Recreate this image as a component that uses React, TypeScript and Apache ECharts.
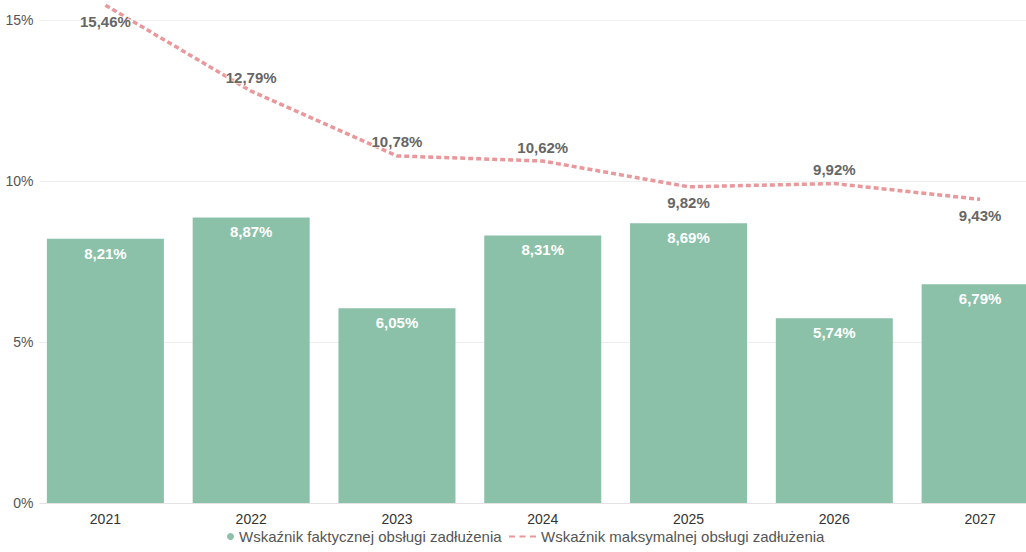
import React, { useEffect, useRef } from "react";
import * as echarts from "echarts";

const years = ["2021", "2022", "2023", "2024", "2025", "2026", "2027"];
const actual = [8.21, 8.87, 6.05, 8.31, 8.69, 5.74, 6.79];
const maxRatio = [15.46, 12.79, 10.78, 10.62, 9.82, 9.92, 9.43];
const maxLabelPos = ["bottom", "top", "top", "top", "bottom", "top", "bottom"];
const yTicks = [0, 5, 10, 15];

const fmt = (v: number) => v.toFixed(2).replace(".", ",") + "%";

const ACTUAL = "Wskaźnik faktycznej obsługi zadłużenia";
const MAX = "Wskaźnik maksymalnej obsługi zadłużenia";

export default function App() {
  const ref = useRef<HTMLDivElement>(null);
  useEffect(() => {
    if (!ref.current) return;
    const chart = echarts.init(ref.current, null, { renderer: "svg" });
    chart.setOption({
      animation: false,
      textStyle: { fontFamily: "Liberation Sans, Arial, sans-serif" },
      grid: { left: 32.5, right: 0, top: 20, bottom: 49 },
      legend: [
        {
          bottom: 3,
          left: 222,
          itemWidth: 7,
          itemHeight: 7,
          textStyle: { fontSize: 15, color: "#555" },
          data: [{ name: ACTUAL, icon: "circle", itemStyle: { color: "#8BC1A9" } }],
        },
        {
          bottom: 3,
          left: 504,
          itemWidth: 27,
          itemHeight: 2.5,
          textStyle: { fontSize: 15, color: "#555" },
          data: [
            {
              name: MAX,
              icon: "path://M0,0h6v2h-6zM10.5,0h6v2h-6zM21,0h6v2h-6z",
              itemStyle: { color: "#E9989B" },
            },
          ],
        },
      ],
      xAxis: {
        type: "category",
        data: years,
        axisTick: { show: false },
        axisLine: { lineStyle: { color: "#e3e3e3" } },
        axisLabel: { fontSize: 14, color: "#333", margin: 9 },
      },
      yAxis: {
        type: "value",
        min: yTicks[0],
        max: yTicks[yTicks.length - 1],
        interval: 5,
        axisLabel: {
          fontSize: 14,
          color: "#555",
          margin: -7,
          formatter: (v: number) => v + "%",
          backgroundColor: "#fff",
          padding: [0, 6, 0, 0],
        },
        splitLine: { lineStyle: { color: "#eeeeee" } },
      },
      series: [
        {
          name: ACTUAL,
          type: "bar",
          data: actual,
          barWidth: 117,
          itemStyle: { color: "#8BC1A9" },
          label: {
            show: true,
            position: "insideTop",
            distance: 7,
            color: "#fff",
            fontWeight: "bold",
            fontSize: 15,
            formatter: (p: any) => fmt(p.value),
          },
        },
        {
          name: MAX,
          type: "line",
          clip: false,
          symbol: "circle",
          symbolSize: 1,
          showSymbol: true,
          z: 5,
          lineStyle: { color: "#E9989B", width: 3.5, type: [5, 3] },
          itemStyle: { color: "rgba(0,0,0,0)" },
          data: maxRatio.map((v, i) => ({
            value: v,
            label: {
              position: maxLabelPos[i],
              distance: maxLabelPos[i] === "top" ? 6 : 8,
            },
          })),
          label: {
            show: true,
            color: "#666",
            fontWeight: "bold",
            fontSize: 15,
            textBorderColor: "rgba(255,255,255,0.7)",
            textBorderWidth: 2,
            formatter: (p: any) => fmt(p.value),
          },
          labelLayout: { hideOverlap: false },
        },
      ],
    });
    return () => chart.dispose();
  }, []);
  return (
    <div style={{ position: "absolute", left: 0, top: 0, width: 1026, height: 552, overflow: "hidden" }}>
      <div ref={ref} style={{ width: 1053, height: 552 }} />
    </div>
  );
}
